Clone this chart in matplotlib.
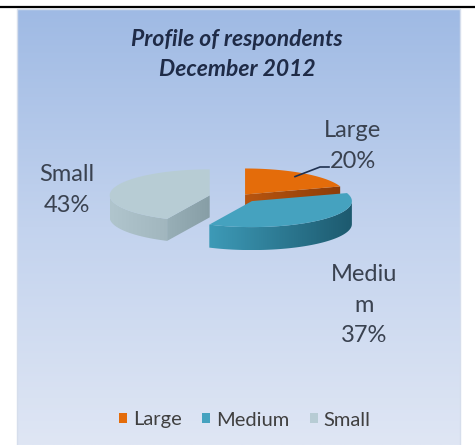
import numpy as np
import matplotlib
matplotlib.use("Agg")
import matplotlib.pyplot as plt
from matplotlib.patches import Polygon, Rectangle
from matplotlib.colors import LinearSegmentedColormap

plt.rcParams['font.family'] = ['Lato', 'DejaVu Sans']

# survey shares, December 2012
categories = ["Large", "Medium", "Small"]
shares = [20, 37, 43]
label_lines = ["Large\n20%", "Mediu\nm\n37%", "Small\n43%"]

top_colors = ["#e46c0a", "#45a2bf", "#b7ccd4"]
wall_colors = [("#b85510", "#8e3d08"), ("#3b98b5", "#1e5d72"), ("#98afb7", "#879ea6")]
rim_colors = [("#b85510", "#8e3d08"), ("#3d9ab7", "#1d5a6f"), ("#b0c5cd", "#a1b6be")]

# pie layout in pixels (y grows downwards)
cx, cy = 238, 197
rx, ry = 100, 26
explode = [0.12, 0.21, 0.29]
depth = [12, 23, 22]


def arc(c, t0, t1, n=80):
    t = np.radians(np.linspace(t0, t1, n))
    return np.column_stack([c[0] + rx * np.sin(t), c[1] - ry * np.cos(t)])


def shade(ax, verts, c0, c1, z):
    poly = Polygon(verts, closed=True, facecolor="none", edgecolor="none", zorder=z)
    ax.add_patch(poly)
    x0, x1 = verts[:, 0].min(), verts[:, 0].max()
    y0, y1 = verts[:, 1].min(), verts[:, 1].max()
    cmap = LinearSegmentedColormap.from_list("side", [c0, c1])
    im = ax.imshow(np.linspace(0, 1, 64).reshape(1, -1), cmap=cmap,
                   extent=(x0, x1 + 0.01, y1 + 0.01, y0), aspect="auto",
                   interpolation="bilinear", zorder=z)
    im.set_clip_path(poly)


fig = plt.figure(figsize=(4.75, 4.45), dpi=100)
fig.patch.set_facecolor("white")
ax = fig.add_axes([0, 0, 1, 1])
ax.set_xlim(0, 475)
ax.set_ylim(445, 0)
ax.set_autoscale_on(False)
ax.axis("off")

# chart area with vertical gradient
bg = LinearSegmentedColormap.from_list("bg", ["#9fbae4", "#c3d3ee", "#dfe6f4"])
ax.imshow(np.linspace(0, 1, 256).reshape(-1, 1), cmap=bg, extent=(17, 460, 445, 9),
          aspect="auto", interpolation="bilinear", zorder=0)
ax.add_patch(Rectangle((17, 9), 443, 440, facecolor="none", edgecolor="#d6deec", lw=1, zorder=1))
ax.plot([0, 475], [7, 7], color="black", lw=1.6, solid_capstyle="butt", zorder=1)

# slice angles, clockwise from 12 o'clock
bounds = np.concatenate([[0], np.cumsum(shares)]) / np.sum(shares) * 360
tops = []
centers = []
for i in range(len(shares)):
    t0, t1 = bounds[i], bounds[i + 1]
    mid = np.radians((t0 + t1) / 2)
    c = (cx + explode[i] * rx * np.sin(mid), cy - explode[i] * ry * np.cos(mid))
    centers.append(c)

order = sorted(range(len(shares)), key=lambda k: centers[k][1])
for i in order:
    t0, t1 = bounds[i], bounds[i + 1]
    c = centers[i]
    d = depth[i]
    z = 2 + order.index(i) * 3
    # radial walls facing the viewer
    for t, visible in ((t1, np.sin(np.radians(t1)) > 1e-6), (t0, np.sin(np.radians(t0)) < -1e-6)):
        if visible:
            p = arc(c, t, t, 1)[0]
            wall = np.array([c, p, (p[0], p[1] + d), (c[0], c[1] + d)])
            shade(ax, wall, *wall_colors[i], z)
    # front part of the outer rim
    a0, a1 = max(t0, 90), min(t1, 270)
    if a1 > a0:
        top_edge = arc(c, a0, a1)
        rim = np.vstack([top_edge, (top_edge + [0, d])[::-1]])
        shade(ax, rim, *rim_colors[i], z + 1)
    face = np.vstack([[c], arc(c, t0, t1)])
    top = Polygon(face, closed=True, facecolor=top_colors[i], edgecolor="none",
                  zorder=z + 2, label=categories[i])
    ax.add_patch(top)
    tops.append(top)

tops = [tops[order.index(k)] for k in range(len(shares))]

# data labels
label_pos = [(353, 146), (364, 305), (67, 190)]
for i, txt in enumerate(label_lines):
    ax.text(*label_pos[i], txt, ha="center", va="center", fontsize=17,
            color="#3a4250", linespacing=1.55, zorder=20)

# leader line from the Large label to its slice
mid = np.radians((bounds[0] + bounds[1]) / 2)
anchor = (centers[0][0] + 0.85 * rx * np.sin(mid), centers[0][1] - 0.85 * ry * np.cos(mid))
lx, ly = label_pos[0]
ax.plot([anchor[0], lx - 33, lx - 24], [anchor[1], ly + 21, ly + 21],
        color="#1f3050", lw=1.2, zorder=20)

ax.text(237, 40, "Profile of respondents", ha="center", va="center", fontsize=16.5,
        fontweight="bold", fontstyle="italic", color="#1f2b47", zorder=20)
ax.text(237, 70, "December 2012", ha="center", va="center", fontsize=16.5,
        fontweight="bold", fontstyle="italic", color="#1f2b47", zorder=20)

ax.legend(handles=tops, loc="center", bbox_to_anchor=(245 / 475, 1 - 420 / 445),
          ncol=3, frameon=False, fontsize=14.5, handlelength=0.4, handleheight=0.4,
          handletextpad=0.3, columnspacing=1.0, labelcolor="#404040")

fig.savefig("out.png", dpi=100)
